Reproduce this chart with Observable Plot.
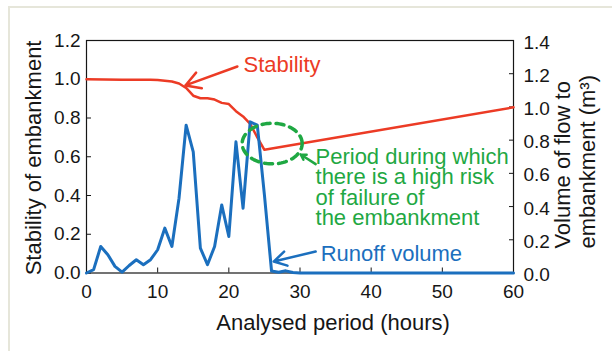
<!DOCTYPE html>
<html><head><meta charset="utf-8">
<script src="https://cdn.jsdelivr.net/npm/d3@7"></script>
<script src="https://cdn.jsdelivr.net/npm/@observablehq/plot@0.6"></script>
<style>
html,body{margin:0;padding:0;background:#fff;}
#wrap{position:relative;width:612px;height:351px;overflow:hidden;}
#border{position:absolute;left:8px;top:6px;right:-10px;bottom:-10px;border-left:2px solid #e6e6da;border-top:2px solid #e6e6da;}
#chart{position:absolute;left:0;top:0;}
</style></head>
<body><div id="wrap"><div id="border"></div><div id="chart"></div></div>
<script>
// ---- data ----
const stabilityHours  = [0, 5, 9, 10, 11, 12, 13, 14, 15, 16, 17, 18, 19, 20, 21, 22, 23, 24, 25, 60];
const stabilityValues = [1.0, 0.998, 0.998, 0.996, 0.992, 0.988, 0.978, 0.955, 0.915, 0.902, 0.902, 0.895, 0.878, 0.872, 0.835, 0.808, 0.77, 0.70, 0.636, 0.855];

const runoffHours  = [0,1,2,3,4,5,6,7,8,9,10,11,12,13,14,15,16,17,18,19,20,21,22,23,24,25,26,27,28,29,30,60];
const runoffValues = [0, 0.02, 0.16, 0.11, 0.04, 0.005, 0.045, 0.08, 0.05, 0.08, 0.14, 0.27, 0.16, 0.45, 0.89, 0.73, 0.15, 0.05, 0.16, 0.41, 0.22, 0.79, 0.39, 0.91, 0.89, 0.47, 0.012, 0.005, 0.013, 0.003, 0, 0];

const xTicks = [0, 10, 20, 30, 40, 50, 60];
const leftTicks = [0, 0.2, 0.4, 0.6, 0.8, 1.0, 1.2];
const rightTicks = [0, 0.2, 0.4, 0.6, 0.8, 1.0, 1.2, 1.4];

const leftMax = 1.2, rightMax = 1.4;
const toLeft = v => v * leftMax / rightMax;

const red = "#ec3b25", blue = "#1b6fbe", green = "#1fa843", ink = "#161616";

const stability = stabilityHours.map((h, i) => ({h, v: stabilityValues[i]}));
const runoff = runoffHours.map((h, i) => ({h, v: toLeft(runoffValues[i])}));

// annotation anchors (data units: hours, left-axis units)
const ellipse = {cx: 26.09, cy: 0.668, rx: 4.215, ry: 0.1048};
const ellipsePts = d3.range(0, 360, 4).map(a => ({
  x: ellipse.cx + ellipse.rx * Math.cos(a * Math.PI / 180),
  y: ellipse.cy + ellipse.ry * Math.sin(a * Math.PI / 180)
}));

const labels = [
  {x: 22.06, y: 1.076, text: "Stability", fill: red},
  {x: 32.9, y: 0.10, text: "Runoff volume", fill: blue}
];
const greenNote = [{x: 32.18, y: 0.439, text: "Period during which\nthere is a high risk\nof failure of\nthe embankment"}];
const arrows = [
  {x1: 21.2, y1: 1.066, x2: 13.9, y2: 0.968, c: red},
  {x1: 32.2, y1: 0.111, x2: 26.3, y2: 0.059, c: blue},
  {x1: 32.2, y1: 0.562, x2: 30.1, y2: 0.612, c: green}
];

const chart = Plot.plot({
  width: 612,
  height: 351,
  marginLeft: 86,
  marginRight: 99,
  marginTop: 40,
  marginBottom: 78.5,
  style: {fontFamily: "'Liberation Sans', Arial, sans-serif", background: "transparent", color: ink},
  x: {domain: [0, 60], label: null},
  y: {domain: [0, leftMax], label: null},
  marks: [
    Plot.frame({stroke: ink, strokeWidth: 1.2}),
    // left axis
    Plot.axisY(leftTicks, {anchor: "left", tickSize: 0, tickPadding: 6, fontSize: 19, label: null, tickFormat: d => d.toFixed(1)}),
    Plot.axisY(leftTicks, {anchor: "left", tickSize: 5, dx: 5, label: null, tickFormat: () => ""}),
    // right axis
    Plot.axisY(rightTicks.map(toLeft), {anchor: "right", tickSize: 0, tickPadding: 10, dy: 2, fontSize: 19, label: null, tickFormat: d => (d * rightMax / leftMax).toFixed(1)}),
    Plot.axisY(rightTicks.map(toLeft), {anchor: "right", tickSize: 5, dx: -5, label: null, tickFormat: () => ""}),
    // x axis
    Plot.axisX(xTicks, {anchor: "bottom", tickSize: 0, tickPadding: 11, fontSize: 19, label: null}),
    Plot.axisX(xTicks, {anchor: "bottom", tickSize: 5, dy: -5, label: null, tickFormat: () => ""}),
    // data
    Plot.line(stability, {x: "h", y: "v", stroke: red, strokeWidth: 2.5}),
    Plot.line(runoff, {x: "h", y: "v", stroke: blue, strokeWidth: 3}),
    // annotations
    Plot.line(ellipsePts, {x: "x", y: "y", curve: "linear-closed", stroke: green, strokeWidth: 3.5, strokeDasharray: "8,6"}),
    Plot.arrow(arrows, {x1: "x1", y1: "y1", x2: "x2", y2: "y2", stroke: "c", strokeWidth: 2.5, headLength: 10}),
    Plot.text(labels, {x: "x", y: "y", text: "text", fill: "fill", fontSize: 22, textAnchor: "start"}),
    Plot.text(greenNote, {x: "x", y: "y", text: "text", fill: green, fontSize: 22, textAnchor: "start", lineHeight: 0.93}),
    // axis titles
    Plot.text([{x: -7.45, y: 0.594, t: "Stability of embankment"}], {x: "x", y: "y", text: "t", rotate: -90, fontSize: 22, fill: ink}),
    Plot.text([{x: 67.0, y: 0.126, t: "Volume of flow to"}, {x: 70.4, y: 0.126, t: "embankment (m³)"}], {x: "x", y: "y", text: "t", rotate: -90, fontSize: 22, fill: ink, textAnchor: "start"}),
    Plot.text([{x: 34.65, y: -0.2555, t: "Analysed period (hours)"}], {x: "x", y: "y", text: "t", fontSize: 22, fill: ink})
  ]
});
document.getElementById("chart").appendChild(chart);
</script>
</body></html>
